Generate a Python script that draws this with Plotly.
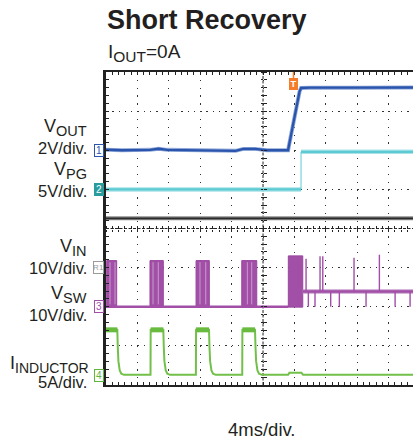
import plotly.graph_objects as go

# ---------------- data read from the scope capture ----------------
title_text = "Short Recovery"
subtitle_main, subtitle_sub, subtitle_tail = "I", "OUT", "=0A"
time_label = "4ms/div."
x_range = [0.0, 39.1]          # ms, visible part of the 10-div screen (right edge cropped)
y_range = [0.0, 8.0]           # divisions
center_t, center_div = 20.0, 4.0

ch_main = ["V", "V", "V", "V", "I"]
ch_sub = ["OUT", "PG", "IN", "SW", "INDUCTOR"]
ch_scale_text = ["2V/div.", "5V/div.", "10V/div.", "10V/div.", "5A/div."]
ch_units_per_div = [2.0, 5.0, 10.0, 10.0, 5.0]
ch_ground_div = [6.0, 5.0, 3.0, 2.0, 0.25]
ch_marker_text = ["1", "2", "R1", "3", "4"]

# VOUT (V)
vout_t = [0.0, 2.0, 5.6, 6.7, 7.8, 10.0, 14.0, 16.5, 17.5, 19.0, 20.5, 23.19, 23.6, 24.0, 24.42, 24.65, 24.85, 26.0, 32.0, 39.1]
vout_v = [0.03, 0.0, 0.02, 0.08, 0.02, 0.0, -0.02, -0.03, 0.07, 0.07, 0.0, 0.0, 0.85, 1.7, 2.56, 3.0, 3.18, 3.2, 3.2, 3.21]

# VPG (V)
vpg_step_t = 24.84
vpg_low_v = 0.0
vpg_high_v = 4.8

# VIN (V)
vin_t = [0.0, 39.1]
vin_v = [12.6, 12.6]

# VSW (V)
vsw_burst_start = [0.09, 5.60, 11.47, 17.29, 23.22]
vsw_burst_end = [1.36, 7.30, 13.16, 19.20, 25.06]
vsw_burst_top = [11.8, 11.8, 11.8, 11.8, 13.0]
vsw_gap_t = [0.51, 1.15, 5.99, 6.66, 11.97, 12.70, 18.00, 18.56]
vsw_base_t = [0.0, 23.22, None, 25.06, 39.1]
vsw_base_v = [0.0, 0.0, None, 3.9, 3.9]
vsw_plateau_v = 3.9
vsw_up_spike_t = [25.48, 27.26, 27.61, 31.59, 34.82]
vsw_up_spike_v = [12.3, 12.9, 12.9, 12.5, 13.3]
vsw_dn_spike_t = [25.77, 26.62, 28.62, 29.72, 33.12, 36.82, 38.73]
vsw_dn_spike_v = [0.0, 0.0, 0.0, 0.0, 0.0, 0.0, 0.0]

# Inductor current (A)
il_t = [0.0, 1.44, 1.50, 1.58, 1.75, 1.95, 2.30,
        5.67, 5.69, 7.30, 7.36, 7.44, 7.61, 7.81, 8.16,
        11.45, 11.47, 13.12, 13.18, 13.26, 13.43, 13.63, 13.98,
        17.35, 17.37, 18.98, 19.04, 19.12, 19.29, 19.49, 19.84,
        23.2, 23.35, 24.9, 25.1, 39.1]
il_a = [5.8, 5.8, 3.6, 1.8, 0.6, 0.2, 0.05,
        0.05, 5.8, 5.8, 3.6, 1.8, 0.6, 0.2, 0.05,
        0.05, 5.8, 5.8, 3.6, 1.8, 0.6, 0.2, 0.05,
        0.05, 5.8, 5.8, 3.6, 1.8, 0.6, 0.2, 0.05,
        0.05, 0.3, 0.3, 0.05, 0.05]
il_high_a = 5.8

trigger_t = 23.88

# ---------------- layout geometry / styles ----------------
W, H = 413, 440
ML, MR, MT, MB = 106, 0, 72, 55
PW, PH = W - ML - MR, H - MT - MB
FONT = "Liberation Sans, Arial, sans-serif"
TXT = "#231f20"
C_VOUT, C_VPG, C_VIN, C_VSW, C_IL = "#2b55ad", "#5ccad3", "#2a2a2a", "#a24fa7", "#72c04a"
C_TRIG, C_CH2 = "#f47c2a", "#2a9c9c"
MARK_COLORS = [C_VOUT, C_CH2, "#9a9a9a", C_VSW, "#5cb83a"]


def px_x(px):
    return (px - ML) / PW


def px_y(py):
    return (H - MB - py) / PH


def to_div(vals, ch):
    g, s = ch_ground_div[ch], ch_units_per_div[ch]
    return [None if v is None else g + v / s for v in vals]


def subbed(main, sub, sub_px, tail=""):
    return f'{main}<sub><span style="font-size:{sub_px}px">{sub}</span></sub>{tail}'


fig = go.Figure()


def line(x, y, color, width, **kw):
    fig.add_trace(go.Scatter(x=x, y=y, mode="lines", line=dict(color=color, width=width),
                             hoverinfo="skip", showlegend=False, **kw))


# VIN (noisy band)
line(vin_t, to_div(vin_v, 2), "#8c8c8c", 4)
line(vin_t, to_div(vin_v, 2), C_VIN, 1.8)

# VPG
line([0.0, vpg_step_t], to_div([vpg_low_v, vpg_low_v], 1), "#a9e3e8", 4.5)
line([vpg_step_t, x_range[1]], to_div([vpg_high_v, vpg_high_v], 1), "#a9e3e8", 4.5)
line([vpg_step_t, vpg_step_t], to_div([vpg_low_v, vpg_high_v], 1), C_VPG, 1)
line([0.0, vpg_step_t], to_div([vpg_low_v, vpg_low_v], 1), C_VPG, 2.2)
line([vpg_step_t, x_range[1]], to_div([vpg_high_v, vpg_high_v], 1), C_VPG, 2.2)

# VOUT
line(vout_t, to_div(vout_v, 0), "#8fa8d8", 4)
line(vout_t, to_div(vout_v, 0), C_VOUT, 2.4)

# VSW bursts
for s, e, top in zip(vsw_burst_start, vsw_burst_end, vsw_burst_top):
    fig.add_trace(go.Scatter(x=[s, s, e, e, s], y=to_div([-0.1, top, top, -0.1, -0.1], 3),
                             mode="lines", fill="toself", fillcolor=C_VSW,
                             line=dict(color="#9a46a0", width=1), hoverinfo="skip", showlegend=False))
gx, gy = [], []
for t in vsw_gap_t:
    gx += [t, t, None]
    gy += to_div([0.6, 11.4], 3) + [None]
line(gx, gy, "#c99ccc", 1)
line(vsw_base_t, to_div(vsw_base_v, 3), C_VSW, 2.6)
line([vsw_base_t[3], vsw_base_t[4]], to_div([vsw_plateau_v, vsw_plateau_v], 3), "#c79ccb", 4.5)
line([vsw_base_t[3], vsw_base_t[4]], to_div([vsw_plateau_v, vsw_plateau_v], 3), C_VSW, 2.6)
sx, sy = [], []
for t, v in zip(vsw_up_spike_t + vsw_dn_spike_t, vsw_up_spike_v + vsw_dn_spike_v):
    sx += [t, t, None]
    sy += to_div([vsw_plateau_v, v], 3) + [None]
line(sx, sy, C_VSW, 1.4)

# Inductor current
line(il_t, to_div(il_a, 4), C_IL, 2)
hx, hy = [], []
for i in range(len(il_t) - 1):
    if il_a[i] == il_high_a and il_a[i + 1] == il_high_a:
        hx += [il_t[i], il_t[i + 1], None]
        hy += to_div([il_high_a, il_high_a], 4) + [None]
line(hx, hy, "#68bb3e", 5)

# dummy traces so the centre cross-hair tick axes are drawn
for xa, ya in [("x2", "y"), ("x3", "y"), ("x", "y2"), ("x", "y3")]:
    fig.add_trace(go.Scatter(x=[None], y=[None], xaxis=xa, yaxis=ya, showlegend=False, hoverinfo="skip"))

# ---------------- text ----------------
ann = []
ann.append(dict(text="<b>" + title_text + "</b>", x=px_x(207), y=px_y(19.5), xref="paper", yref="paper",
                xanchor="center", yanchor="middle", showarrow=False, font=dict(size=27, color=TXT, family=FONT)))
ann.append(dict(text=subbed(subtitle_main, subtitle_sub, 15.5, subtitle_tail), x=px_x(105.5), y=px_y(53),
                xref="paper", yref="paper", xanchor="left", yanchor="middle", showarrow=False,
                font=dict(size=19, color=TXT, family=FONT)))
ann.append(dict(text=time_label, x=px_x(262), y=px_y(429.5), xref="paper", yref="paper",
                xanchor="center", yanchor="middle", showarrow=False, font=dict(size=18.5, color=TXT, family=FONT)))

name_pos = [(88.5, 127.6), (88.5, 170.3), (88.5, 247.6), (88.5, 294.8), (91, 364.0)]
name_sub_px = [14.5, 14.5, 14.5, 14.5, 14]
scale_pos = [(88.5, 147.9), (88.5, 191.3), (88.5, 267.9), (88.5, 314.6), (88.5, 382.3)]
for i in range(5):
    ann.append(dict(text=subbed(ch_main[i], ch_sub[i], name_sub_px[i]), x=px_x(name_pos[i][0]),
                    y=px_y(name_pos[i][1]), xref="paper", yref="paper", xanchor="right", yanchor="middle",
                    showarrow=False, font=dict(size=18, color=TXT, family=FONT)))
    ann.append(dict(text=ch_scale_text[i], x=px_x(scale_pos[i][0]), y=px_y(scale_pos[i][1]), xref="paper",
                    yref="paper", xanchor="right", yanchor="middle", showarrow=False,
                    font=dict(size=16.5, color=TXT, family=FONT)))
    filled = (i == 1)
    ann.append(dict(text=ch_marker_text[i], x=px_x(98.5), y=ch_ground_div[i], xref="paper", yref="y",
                    xanchor="center", yanchor="middle", showarrow=False, width=8 if i != 2 else 9, height=11,
                    borderpad=0, borderwidth=1, bordercolor=MARK_COLORS[i],
                    bgcolor=MARK_COLORS[i] if filled else "white",
                    font=dict(size=10 if i != 2 else 8, color="white" if filled else MARK_COLORS[i], family=FONT)))

ann.append(dict(text="<b>T</b>", x=trigger_t, y=y_range[1], xref="x", yref="y", showarrow=True,
                ax=0, ay=12, arrowhead=0, arrowwidth=1.5, arrowcolor=C_TRIG, standoff=0,
                width=7, height=10, borderpad=0, bgcolor=C_TRIG, bordercolor=C_TRIG,
                font=dict(size=9, color="white", family=FONT)))

# centre cross-hair lines (dashed), ticks come from the free axes below
AX = "#222222"
shapes = [
    dict(type="line", xref="x", yref="y", x0=center_t, x1=center_t, y0=y_range[0], y1=y_range[1],
         line=dict(color=AX, width=1, dash="3px,1.5px"), layer="below"),
    dict(type="line", xref="x", yref="y", x0=x_range[0], x1=x_range[1], y0=center_div, y1=center_div,
         line=dict(color=AX, width=1, dash="3px,1.5px"), layer="below"),
]

# ---------------- axes ----------------
grid_common = dict(showticklabels=False, zeroline=False)
xc = dict(range=x_range, overlaying="x", anchor="free", position=center_div / y_range[1],
          ticks="outside", ticklen=2.5, dtick=0.8, tick0=0, tickcolor=AX, showline=False,
          showgrid=False, **grid_common)
yc = dict(range=y_range, overlaying="y", anchor="free", position=center_t / x_range[1],
          ticks="outside", ticklen=2.5, dtick=0.2, tick0=0, tickcolor=AX, showline=False,
          showgrid=False, **grid_common)
fig.update_layout(
    width=W, height=H, margin=dict(l=ML, r=MR, t=MT, b=MB, pad=0),
    paper_bgcolor="white", plot_bgcolor="white", showlegend=False,
    annotations=ann, shapes=shapes,
    xaxis=dict(range=x_range, dtick=4, tick0=0, showgrid=True, gridcolor="#333333", gridwidth=1,
               griddash="1.3px,6.525px", ticks="inside", ticklen=3, tickcolor=AX, tickwidth=1,
               minor=dict(dtick=0.8, tick0=0, ticks="inside", ticklen=3, tickcolor=AX, showgrid=False),
               showline=True, linecolor=AX, linewidth=2, mirror="ticks", **grid_common),
    yaxis=dict(range=y_range, dtick=1, tick0=0, showgrid=True, gridcolor="#333333", gridwidth=1,
               griddash="1.3px,4.98px", ticks="inside", ticklen=3, tickcolor=AX, tickwidth=1,
               minor=dict(dtick=0.2, tick0=0, ticks="inside", ticklen=3, tickcolor=AX, showgrid=False),
               showline=True, linecolor=AX, linewidth=2.5, mirror=False, **grid_common),
    xaxis2=dict(side="bottom", **xc),
    xaxis3=dict(side="top", **xc),
    yaxis2=dict(side="left", **yc),
    yaxis3=dict(side="right", **yc),
)

fig.write_html("out.html", config={"displayModeBar": False},
               post_script="document.body.style.margin='0';document.body.style.overflow='hidden';")
